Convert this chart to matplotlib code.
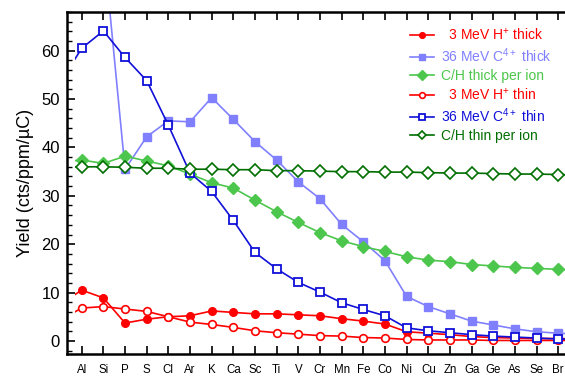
import numpy as np
import matplotlib
matplotlib.use("Agg")
import matplotlib.pyplot as plt
from matplotlib.patches import Rectangle
from matplotlib.ticker import MultipleLocator

plt.rcParams['font.family'] = ['Liberation Sans', 'DejaVu Sans']
plt.rcParams['mathtext.fontset'] = 'custom'
plt.rcParams['mathtext.rm'] = 'Liberation Sans'
plt.rcParams['mathtext.it'] = 'Liberation Sans'
plt.rcParams['mathtext.default'] = 'regular'

# Elements (first and last lie just outside the visible range)
elements = ["Mg", "Al", "Si", "P", "S", "Cl", "Ar", "K", "Ca", "Sc", "Ti", "V", "Cr",
            "Mn", "Fe", "Co", "Ni", "Cu", "Zn", "Ga", "Ge", "As", "Se", "Br", "Kr"]

h_thick = [7.6, 10.5, 8.9, 3.7, 4.5, 5.0, 5.2, 6.2, 5.9, 5.6, 5.6, 5.4, 5.2,
           4.6, 4.1, 3.5, 1.9, 1.6, 1.3, 0.9, 0.7, 0.6, 0.5, 0.5, 0.4]
c_thick = [np.nan, np.nan, 82.0, 35.5, 42.2, 45.5, 45.3, 50.3, 45.8, 41.2, 37.4, 32.9, 29.4,
           24.1, 20.5, 16.6, 9.2, 7.1, 5.6, 4.1, 3.3, 2.5, 1.9, 1.6, 1.4]
ch_thick = [37.0, 37.4, 36.7, 38.2, 37.2, 36.2, 34.5, 32.7, 31.6, 29.1, 26.7, 24.5, 22.4,
            20.7, 19.5, 18.5, 17.4, 16.7, 16.4, 15.8, 15.5, 15.2, 15.0, 14.8, 14.6]
h_thin = [4.3, 6.8, 7.1, 6.6, 6.1, 5.0, 3.9, 3.4, 2.8, 2.1, 1.7, 1.4, 1.1,
          1.0, 0.7, 0.6, 0.3, 0.2, 0.2, 0.2, 0.1, 0.1, 0.1, 0.1, 0.1]
c_thin = [53.4, 60.5, 64.1, 58.6, 53.8, 44.6, 34.7, 30.9, 24.9, 18.3, 14.9, 12.1, 10.1,
          7.9, 6.5, 5.2, 2.7, 2.1, 1.7, 1.3, 1.0, 0.8, 0.6, 0.4, 0.3]
ch_thin = [36.0, 36.0, 36.0, 35.9, 35.7, 35.7, 35.5, 35.5, 35.4, 35.4, 35.2, 35.2, 35.1,
           35.0, 35.0, 34.9, 34.9, 34.8, 34.7, 34.7, 34.6, 34.5, 34.5, 34.4, 34.3]

labels = ["  3 MeV H$^{+}$ thick", "36 MeV C$^{4+}$ thick", "C/H thick per ion",
          "  3 MeV H$^{+}$ thin", "36 MeV C$^{4+}$ thin", "C/H thin per ion"]
colors = ["#FF0000", "#8080FF", "#4CC64C", "#FF0000", "#1010D8", "#006E00"]

x = np.arange(len(elements)) - 1  # Al at 0

fig = plt.figure(figsize=(5.65, 3.77), dpi=100)
ax = fig.add_axes([67/565, 1-354/377, (580-67)/565, (354-12)/377])

series = [h_thick, c_thick, ch_thick, h_thin, c_thin, ch_thin]
styles = [
    dict(marker='o', ms=5.5, mfc=colors[0], mec=colors[0]),
    dict(marker='s', ms=6.0, mfc=colors[1], mec=colors[1]),
    dict(marker='D', ms=6.5, mfc=colors[2], mec=colors[2]),
    dict(marker='o', ms=5.5, mfc='white', mec=colors[3], mew=1.2),
    dict(marker='s', ms=5.5, mfc='white', mec=colors[4], mew=1.3),
    dict(marker='D', ms=6.0, mfc='white', mec=colors[5], mew=1.2),
]
ymin, ymax = -2.7, 68.0
xmin = -0.68
clip = Rectangle((-0.33, ymin), 40, ymax - ymin, transform=ax.transData)
for s, lab, c, st in zip(series, labels, colors, styles):
    ln, = ax.plot(x, s, color=c, lw=1.2, label=lab, **st)
    ln.set_clip_path(clip)

ax.set_xlim(xmin, 22 + (580 - 558.2) / 21.66)
ax.set_ylim(ymin, ymax)
ax.set_xticks(x[1:-1])
ax.set_xticklabels(elements[1:-1], fontsize=8.3)
ax.yaxis.set_major_locator(MultipleLocator(10))
ax.yaxis.set_minor_locator(MultipleLocator(2))
ax.tick_params(axis='y', which='major', direction='in', length=6, width=1.2,
               labelsize=12, pad=5, right=False)
ax.tick_params(axis='y', which='minor', direction='in', length=3.5, width=1.0, right=False)
ax.tick_params(axis='x', which='major', direction='in', length=6, width=1.2,
               top=True, pad=7.5)
for sp in ax.spines.values():
    sp.set_linewidth(1.8)

ax.set_ylabel("Yield (cts/ppm/\u00b5C)", fontsize=13, labelpad=5)

leg = ax.legend(loc='upper left', bbox_to_anchor=(410/565, 1-27/377),
                bbox_transform=fig.transFigure, frameon=False, fontsize=10,
                handlelength=1.7, handletextpad=0.5, labelspacing=0.27,
                borderpad=0, borderaxespad=0, markerscale=0.75)
for t, c in zip(leg.get_texts(), colors):
    t.set_color(c)

fig.savefig("out.png", dpi=100)
